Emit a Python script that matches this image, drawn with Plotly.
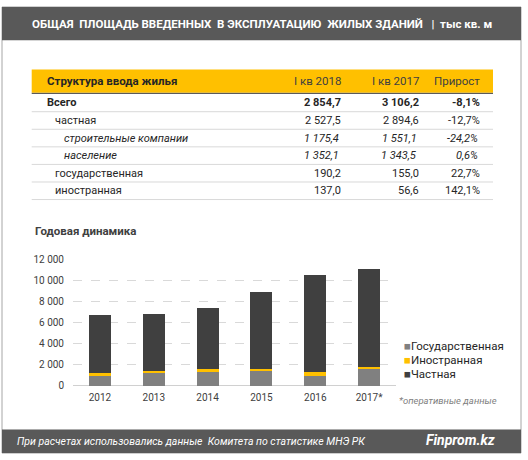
import plotly.graph_objects as go

W, H = 528, 460

# ---------- data ----------
title_text = "ОБЩАЯ  ПЛОЩАДЬ ВВЕДЕННЫХ  В ЭКСПЛУАТАЦИЮ  ЖИЛЫХ ЗДАНИЙ   |  тыс кв. м"
table_header = ["Структура ввода жилья", "I кв 2018", "I кв 2017", "Прирост"]
table_labels = ["Всего", "частная", "строительные компании", "население",
                "государственная", "иностранная"]
table_levels = [0, 1, 2, 2, 1, 1]
q1_2018 = [2854.7, 2527.5, 1175.4, 1352.1, 190.2, 137.0]
q1_2017 = [3106.2, 2894.6, 1551.1, 1343.5, 155.0, 56.6]
growth = [-8.1, -12.7, -24.2, 0.6, 22.7, 142.1]

years = ["2012", "2013", "2014", "2015", "2016", "2017*"]
gos = [1050, 1240, 1330, 1450, 960, 1610]
inostr = [190, 190, 280, 120, 400, 190]
chast = [5470, 5370, 5840, 7370, 9160, 9370]
series_names = ["Государственная", "Иностранная", "Частная"]
series_colors = ["#808080", "#FFC000", "#404040"]

FONT = "Roboto"
DARK = "#262626"


def xp(x):
    return x / W


def yp(y):
    return 1 - y / H


def fmt(v):
    return f"{v:,.1f}".replace(",", " ").replace(".", ",")


fig = go.Figure()
for name, vals, col in zip(series_names, [gos, inostr, chast], series_colors):
    fig.add_trace(go.Bar(x=years, y=vals, name=name, marker_color=col,
                         marker_line_width=0))

shapes = []
ann = []

# frame, header and footer
shapes.append(dict(type="rect", xref="paper", yref="paper", x0=xp(2), x1=xp(521),
                   y0=yp(458), y1=yp(1), line=dict(color="#a6a6a6", width=1),
                   fillcolor="rgba(0,0,0,0)", layer="below"))
shapes.append(dict(type="rect", xref="paper", yref="paper", x0=xp(2), x1=xp(521),
                   y0=yp(35), y1=yp(1), line_width=0, fillcolor="#595959", layer="below"))
shapes.append(dict(type="rect", xref="paper", yref="paper", x0=xp(2), x1=xp(521),
                   y0=yp(458), y1=yp(434), line_width=0, fillcolor="#595959", layer="below"))

ann.append(dict(text=f"<b>{title_text}</b>", x=xp(262), y=yp(18), xanchor="center",
                yanchor="middle", font=dict(family=FONT, size=11.5, color="white")))
ann.append(dict(text="<i>При расчетах использовались данные  Комитета по статистике МНЭ РК</i>",
                x=xp(15), y=yp(446), xanchor="left", yanchor="middle",
                font=dict(family=FONT, size=10.5, color="white")))
ann.append(dict(text="<b><i>Finprom.kz</i></b>", x=xp(497), y=yp(445), xanchor="right",
                yanchor="middle", font=dict(family=FONT, size=14, color="white")))

# table
TL, TR = 31.7, 493
shapes.append(dict(type="rect", xref="paper", yref="paper", x0=xp(TL), x1=xp(TR),
                   y0=yp(89), y1=yp(65), line_width=0, fillcolor="#FFC000", layer="below"))
shapes.append(dict(type="line", xref="paper", yref="paper", x0=xp(TL), x1=xp(TR),
                   y0=yp(89.5), y1=yp(89.5), line=dict(color="#404040", width=1)))
col_right = [343, 421, 482]
ann.append(dict(text=f"<b>{table_header[0]}</b>", x=xp(45), y=yp(77), xanchor="left",
                yanchor="middle", font=dict(family=FONT, size=11.5, color=DARK)))
for h, xr in zip(table_header[1:], col_right):
    ann.append(dict(text=h, x=xp(xr), y=yp(77), xanchor="right", yanchor="middle",
                    font=dict(family=FONT, size=11.5, color="#404040")))

indent = {0: 45, 1: 53, 2: 62}
row0 = 99.3
rh = 18
for i, (lab, lvl, a, b, g) in enumerate(zip(table_labels, table_levels, q1_2018, q1_2017, growth)):
    yc = row0 + i * rh
    cells = [fmt(a), fmt(b), fmt(g) + "%"]
    if lvl == 0:
        wrap = lambda s: f"<b>{s}</b>"
    elif lvl == 2:
        wrap = lambda s: f"<i>{s}</i>"
    else:
        wrap = lambda s: s
    ann.append(dict(text=wrap(lab), x=xp(indent[lvl]), y=yp(yc), xanchor="left",
                    yanchor="middle", font=dict(family=FONT, size=11, color=DARK)))
    for c, xr in zip(cells, col_right):
        ann.append(dict(text=wrap(c), x=xp(xr - (2 if lvl == 2 else 0)), y=yp(yc),
                        xanchor="right", yanchor="middle",
                        font=dict(family=FONT, size=11, color=DARK)))
    ly = yc + rh / 2
    shapes.append(dict(type="line", xref="paper", yref="paper", x0=xp(TL), x1=xp(TR),
                       y0=yp(ly), y1=yp(ly), line=dict(color="#d9d9d9", width=1)))

# chart title
ann.append(dict(text="<b>Годовая динамика</b>", x=xp(33), y=yp(231), xanchor="left",
                yanchor="middle", font=dict(family=FONT, size=11.5, color="#404040")))
ann.append(dict(text="<i>*оперативные данные</i>", x=xp(397), y=yp(404), xanchor="left",
                yanchor="middle", font=dict(family=FONT, size=9.5, color="#7f7f7f")))

# legend (manual)
for k, (name, col) in enumerate(zip(series_names, series_colors)):
    ann.append(dict(text=f"<span style='color:{col}'>■</span>{name}", x=xp(402),
                    y=yp(348.5 + k * 14.2), xanchor="left", yanchor="middle",
                    font=dict(family=FONT, size=11.5, color=DARK)))

for a in ann:
    a.setdefault("xref", "paper")
    a.setdefault("yref", "paper")
    a.setdefault("showarrow", False)

fig.update_layout(
    width=W, height=H, margin=dict(l=0, r=0, t=0, b=0),
    paper_bgcolor="white", plot_bgcolor="white",
    barmode="stack", bargap=0.59, showlegend=False,
    separators=", ",
    font=dict(family=FONT, color="#404040"),
    shapes=shapes, annotations=ann,
    xaxis=dict(domain=[xp(73), xp(396)], showgrid=False, showline=False,
               tickfont=dict(size=10, color="#404040"), ticklabelstandoff=4,
               fixedrange=True),
    yaxis=dict(domain=[yp(389.3), yp(260)], range=[0, 12000], dtick=2000,
               tickformat=",d", showgrid=True, gridcolor="#d9d9d9", griddash="dash",
               gridwidth=1, zeroline=True, zerolinecolor="#d0d0d0", zerolinewidth=1,
               tickfont=dict(size=10, color="#404040"), ticklabelstandoff=8,
               fixedrange=True),
)

fig.write_html("out.html", config={"displayModeBar": False},
               post_script="document.body.style.margin='0';document.body.style.overflow='hidden';")
